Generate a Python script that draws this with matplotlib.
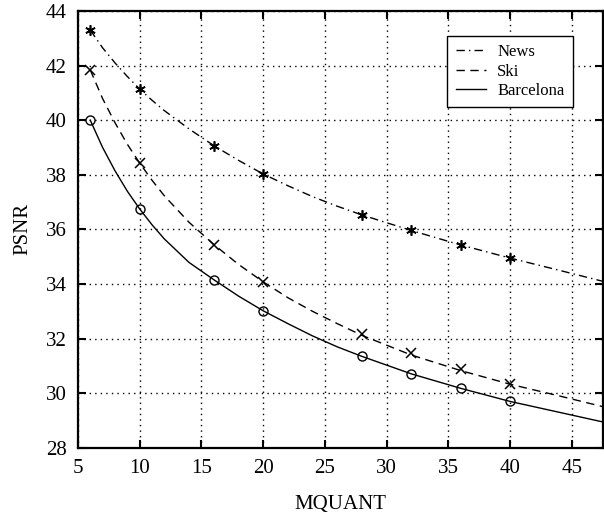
import matplotlib
matplotlib.use("Agg")
import matplotlib.pyplot as plt

plt.rcParams['font.family'] = ['Liberation Serif', 'DejaVu Serif']

# marker data
mq = [6, 10, 16, 20, 28, 32, 36, 40]
news = [43.30, 41.14, 39.07, 38.03, 36.53, 35.98, 35.43, 34.97]
ski = [41.84, 38.43, 35.43, 34.06, 32.17, 31.46, 30.88, 30.33]
barcelona = [40.00, 36.75, 34.16, 33.02, 31.35, 30.71, 30.18, 29.70]

# fitted curves
curve_x = [6, 7, 8, 9, 10, 11, 12, 14, 16, 18, 20, 22, 24, 26, 28, 32, 36, 40, 44, 47.5]
news_curve = [43.30, 42.65, 42.10, 41.60, 41.14, 40.73, 40.35, 39.68, 39.07, 38.53, 38.03,
              37.60, 37.20, 36.85, 36.53, 35.96, 35.43, 34.95, 34.50, 34.10]
ski_curve = [41.84, 40.79, 39.91, 39.12, 38.43, 37.80, 37.23, 36.26, 35.45, 34.72, 34.08,
             33.50, 33.00, 32.55, 32.12, 31.40, 30.83, 30.33, 29.90, 29.51]
barc_curve = [40.00, 39.00, 38.15, 37.40, 36.75, 36.17, 35.65, 34.79, 34.16, 33.56, 33.02,
              32.55, 32.10, 31.70, 31.35, 30.71, 30.18, 29.70, 29.30, 28.95]

xticks = [5, 10, 15, 20, 25, 30, 35, 40, 45]
yticks = [28, 30, 32, 34, 36, 38, 40, 42, 44]

fig = plt.figure(figsize=(6.04, 5.22), dpi=100)
ax = fig.add_axes([0.129, 0.142, 0.869, 0.837])

ax.plot(curve_x, news_curve, color='black', lw=1.0, linestyle=(0, (6, 3, 1, 3)), label='News')
ax.plot(curve_x, ski_curve, color='black', lw=1.0, linestyle=(0, (6, 4)), label='Ski')
ax.plot(curve_x, barc_curve, color='black', lw=1.0, linestyle='-', label='Barcelona')

ax.plot(mq, news, linestyle='none', marker=(6, 2, 0), markersize=7.5, mec='black', mew=1.2)
ax.plot(mq, ski, linestyle='none', marker='x', markersize=7, mec='black', mew=1.1)
ax.plot(mq, barcelona, linestyle='none', marker='o', markersize=6.5, mfc='none', mec='black', mew=1.0)

ax.set_xlim(5, 47.5)
ax.set_ylim(28, 44)
ax.set_xticks(xticks)
ax.set_yticks(yticks)
ax.tick_params(direction='in', length=6, width=1.5, top=True, right=True,
               labelsize=15, pad=8)
ax.grid(True, linestyle=(0, (1, 3)), color='black', lw=1.0)
for s in ax.spines.values():
    s.set_linewidth(1.6)

ax.set_xlabel('MQUANT', fontsize=15, labelpad=12)
ax.set_ylabel('PSNR', fontsize=15, labelpad=10)

leg = ax.legend(loc='upper right', bbox_to_anchor=(0.943, 0.943), fontsize=12,
                frameon=True, fancybox=False, edgecolor='black', framealpha=1,
                handlelength=1.8, borderpad=0.5, labelspacing=0.2, handletextpad=0.7,
                borderaxespad=0)
leg.get_frame().set_linewidth(1.0)

fig.savefig('out.png', dpi=100)
